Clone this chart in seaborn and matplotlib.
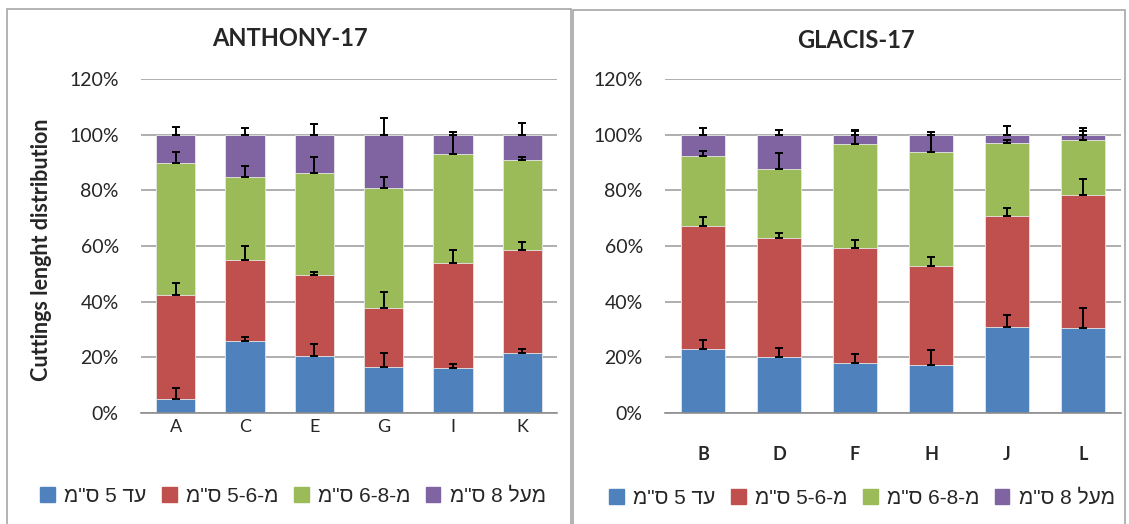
import re
import numpy as np
import pandas as pd
import matplotlib
matplotlib.use("Agg")
import matplotlib.pyplot as plt
import matplotlib.patches as mpatches
import seaborn as sns

# segment shares (%) per category: up to 5, 5-6, 6-8, over 8 cm
left_cats = ["A", "C", "E", "G", "I", "K"]
left_blue = [4.9, 25.8, 20.6, 16.6, 16.3, 21.4]
left_red = [37.6, 29.2, 29.0, 21.2, 37.5, 37.0]
left_green = [47.2, 29.8, 36.5, 43.2, 39.1, 32.4]
left_purple = [10.3, 15.2, 13.9, 19.0, 7.1, 9.2]
left_err_blue = [4.0, 1.5, 4.3, 5.1, 1.3, 1.7]
left_err_red = [4.3, 5.0, 1.1, 5.7, 4.6, 2.9]
left_err_green = [4.1, 4.0, 5.9, 3.7, 8.0, 1.2]
left_err_purple = [2.9, 2.5, 4.0, 6.1, 1.0, 4.3]

right_cats = ["B", "D", "F", "H", "J", "L"]
right_blue = [23.0, 20.0, 18.1, 17.2, 30.8, 30.5]
right_red = [44.1, 42.8, 41.1, 35.5, 39.8, 48.0]
right_green = [25.1, 25.0, 37.5, 41.1, 26.4, 19.5]
right_purple = [7.8, 12.2, 3.3, 6.2, 3.0, 2.0]
right_err_blue = [3.1, 3.5, 3.1, 5.4, 4.5, 7.4]
right_err_red = [3.2, 1.8, 3.1, 3.3, 3.1, 5.5]
right_err_green = [1.8, 5.5, 4.7, 6.0, 1.0, 3.3]
right_err_purple = [2.3, 1.7, 1.7, 1.1, 3.0, 2.3]

series_labels = ['עד 5 ס"מ', 'מ-5-6 ס"מ', 'מ-6-8 ס"מ', 'מעל 8 ס"מ']
colors = ["#4F81BD", "#C0504D", "#9BBB59", "#8064A2"]
yticks = [0, 20, 40, 60, 80, 100, 120]


def visual(s):
    # matplotlib has no bidi: reverse Hebrew, keep number runs left-to-right
    r = s[::-1]
    return re.sub(r"[0-9][0-9\-]*[0-9]|[0-9]", lambda m: m.group(0)[::-1], r)


sns.set_style("white")
plt.rcParams["font.family"] = ["Lato", "DejaVu Sans"]

fig = plt.figure(figsize=(11.29, 5.24), dpi=100)

# chart frames
for x0, x1, y0 in [(7, 571, 9), (573, 1125, 10)]:
    fig.patches.append(mpatches.Rectangle((x0 / 1129, -0.1), (x1 - x0) / 1129, (524 - y0) / 524 + 0.1,
                                          transform=fig.transFigure, fill=False,
                                          edgecolor="#A6A6A6", lw=1.2))

ax_l = fig.add_axes([141 / 1129, 111 / 524, 416 / 1129, 334 / 524])
ax_r = fig.add_axes([665 / 1129, 111 / 524, 456 / 1129, 334 / 524])


def draw_panel(ax, cats, segs, errs, bold_x):
    segs = np.array(segs)
    cum = np.cumsum(segs, axis=0)
    for i in range(3, -1, -1):
        df = pd.DataFrame({"cat": cats, "val": cum[i]})
        sns.barplot(data=df, x="cat", y="val", order=cats, color=colors[i], width=0.57,
                    saturation=1, edgecolor="#E8E8E8", linewidth=0.6, ax=ax, zorder=2)
    xs = np.arange(len(cats))
    for i in range(4):
        ax.errorbar(xs, cum[i], yerr=[np.zeros(len(cats)), errs[i]], fmt="none",
                    ecolor="black", elinewidth=1.4, capsize=2.8, capthick=1.4, zorder=4)
    ax.set_ylim(0, 120)
    ax.set_xlim(-0.5, len(cats) - 0.5)
    ax.set_yticks(yticks)
    ax.set_yticklabels([f"{t}%" for t in yticks], fontsize=14)
    ax.yaxis.grid(True, color="#999999", lw=1.1, zorder=0)
    ax.set_axisbelow(True)
    for s in ["top", "right", "left"]:
        ax.spines[s].set_visible(False)
    ax.spines["bottom"].set_color("#8C8C8C")
    ax.spines["bottom"].set_linewidth(1.2)
    ax.set_xticks(np.arange(-0.5, len(cats)), minor=True)
    ax.tick_params(axis="x", which="minor", length=7, color="#8C8C8C", width=1.2)
    ax.tick_params(axis="x", which="major", length=0, labelsize=13,
                   pad=(4 if not bold_x else 24))
    ax.tick_params(axis="y", length=0, pad=16)
    ax.set_xlabel("")
    ax.set_ylabel("")
    if bold_x:
        for t in ax.get_xticklabels():
            t.set_fontweight("bold")


draw_panel(ax_l, left_cats, [left_blue, left_red, left_green, left_purple],
           [left_err_blue, left_err_red, left_err_green, left_err_purple], False)
draw_panel(ax_r, right_cats, [right_blue, right_red, right_green, right_purple],
           [right_err_blue, right_err_red, right_err_green, right_err_purple], True)

ax_l.set_ylabel("Cuttings lenght distribution", fontsize=15.5, fontweight="bold")
ax_l.yaxis.set_label_coords(-0.214, 0.488)

fig.text(290 / 1129, 1 - 38 / 524, "ANTHONY-17", ha="center", va="center",
         fontsize=17, fontweight="bold")
fig.text(856 / 1129, 1 - 40 / 524, "GLACIS-17", ha="center", va="center",
         fontsize=17, fontweight="bold")

handles = [mpatches.Patch(color=c, label=visual(l)) for c, l in zip(colors, series_labels)]
for cx, cy in [(293, 496), (862, 498)]:
    fig.legend(handles=handles, loc="center", bbox_to_anchor=(cx / 1129, 1 - cy / 524),
               ncol=4, frameon=False, handlelength=0.7, handleheight=0.7,
               handletextpad=0.45, columnspacing=0.75,
               prop={"family": ["Liberation Sans", "DejaVu Sans"], "size": 15})

fig.savefig("out.png", dpi=100)
